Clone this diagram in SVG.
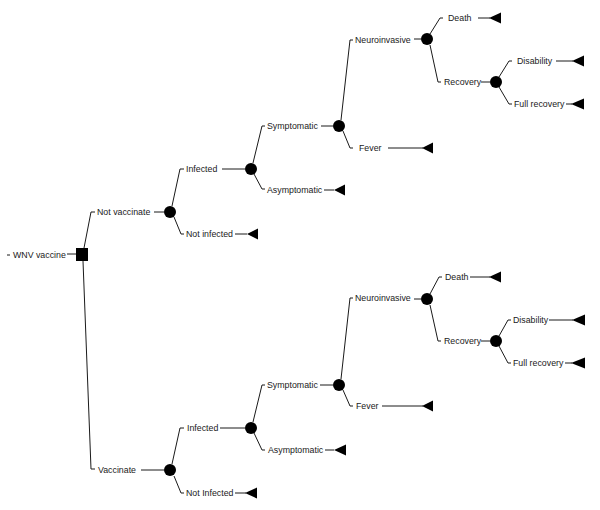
<svg xmlns="http://www.w3.org/2000/svg" width="600" height="510" viewBox="0 0 600 510">
<style>
.c{fill:none;stroke:#1a1a1a;stroke-width:1}
.t{font-family:"Liberation Sans",Arial,sans-serif;font-size:8.8px;fill:#1a1a1a}
.n{fill:#000}
</style>
<rect width="600" height="510" fill="#fff"/>
<g id="connectors">
<path class="c" d="M7,255H10M67,254H76"/>
<path class="c" d="M84,248L91,212H95M154,212H164"/>
<path class="c" d="M83,261L91,469H95M141,470H164"/>
<path class="c" d="M172,206L180,169H184M222,169H245"/>
<path class="c" d="M174,217L181,234H184M235,234H247"/>
<path class="c" d="M253,163L262,126H265M321,126H333"/>
<path class="c" d="M254,174L262,189H265M324,190H334"/>
<path class="c" d="M341,120L350,40H353M414,39H421"/>
<path class="c" d="M343,131L350,148H353M388,148H423"/>
<path class="c" d="M430,34L440,18H443M478,18H490"/>
<path class="c" d="M430,45L438,82H441M481,82H490"/>
<path class="c" d="M499,77L509,61H512M556,61H573"/>
<path class="c" d="M499,87L509,104H512M566,104H572"/>
<path class="c" d="M172,464L180,428H184M220,428H245"/>
<path class="c" d="M174,476L181,493H184M235,493H246"/>
<path class="c" d="M253,422L262,385H265M320,385H333"/>
<path class="c" d="M254,433L262,450H265M325,450H334"/>
<path class="c" d="M341,379L350,298H353M414,299H421"/>
<path class="c" d="M343,390L350,406H353M382,406H423"/>
<path class="c" d="M430,294L439,277H442M470,277H490"/>
<path class="c" d="M430,305L438,341H441M481,341H490"/>
<path class="c" d="M499,336L508,320H511M549,320H573"/>
<path class="c" d="M499,346L508,363H511M565,363H572"/>
</g>
<g id="root"><text class="t" x="13" y="258">WNV vaccine</text><rect class="n" x="76" y="248" width="12" height="13"/></g>
<g id="not-vaccinate"><text class="t" x="97" y="215">Not vaccinate</text><circle class="n" cx="170" cy="212" r="6"/></g>
<g id="vaccinate"><text class="t" x="98" y="473">Vaccinate</text><circle class="n" cx="170" cy="470" r="6"/></g>
<g id="nv-infected"><text class="t" x="186" y="172">Infected</text><circle class="n" cx="251" cy="169" r="6"/></g>
<g id="nv-not-infected"><text class="t" x="186" y="237">Not infected</text><polygon class="n" points="247,234 258,228.5 258,239.5"/></g>
<g id="nv-symptomatic"><text class="t" x="267" y="129">Symptomatic</text><circle class="n" cx="339" cy="126" r="6"/></g>
<g id="nv-asymptomatic"><text class="t" x="267" y="193">Asymptomatic</text><polygon class="n" points="334,190 345,184.5 345,195.5"/></g>
<g id="nv-neuroinvasive"><text class="t" x="355" y="43">Neuroinvasive</text><circle class="n" cx="427" cy="39" r="6"/></g>
<g id="nv-fever"><text class="t" x="359" y="151">Fever</text><polygon class="n" points="422,148 433,142.5 433,153.5"/></g>
<g id="nv-death"><text class="t" x="448" y="21">Death</text><polygon class="n" points="489,18 501,12.5 501,23.5"/></g>
<g id="nv-recovery"><text class="t" x="444" y="85">Recovery</text><circle class="n" cx="496" cy="82" r="6"/></g>
<g id="nv-disability"><text class="t" x="517" y="64">Disability</text><polygon class="n" points="572,61 584,55.5 584,66.5"/></g>
<g id="nv-full-recovery"><text class="t" x="514" y="107">Full recovery</text><polygon class="n" points="571,104 584,98.5 584,109.5"/></g>
<g id="v-infected"><text class="t" x="187" y="431">Infected</text><circle class="n" cx="251" cy="428" r="6"/></g>
<g id="v-not-infected"><text class="t" x="186" y="496">Not Infected</text><polygon class="n" points="245,493 257,487.5 257,498.5"/></g>
<g id="v-symptomatic"><text class="t" x="267" y="388">Symptomatic</text><circle class="n" cx="339" cy="385" r="6"/></g>
<g id="v-asymptomatic"><text class="t" x="268" y="453">Asymptomatic</text><polygon class="n" points="334,450 346,444.5 346,455.5"/></g>
<g id="v-neuroinvasive"><text class="t" x="355" y="301">Neuroinvasive</text><circle class="n" cx="427" cy="299" r="6"/></g>
<g id="v-fever"><text class="t" x="356" y="409">Fever</text><polygon class="n" points="422,406 433,400.5 433,411.5"/></g>
<g id="v-death"><text class="t" x="445" y="280">Death</text><polygon class="n" points="489,277 501,271.5 501,282.5"/></g>
<g id="v-recovery"><text class="t" x="444" y="344">Recovery</text><circle class="n" cx="496" cy="341" r="6"/></g>
<g id="v-disability"><text class="t" x="513" y="323">Disability</text><polygon class="n" points="572,320 585,314.5 585,325.5"/></g>
<g id="v-full-recovery"><text class="t" x="513" y="366">Full recovery</text><polygon class="n" points="571,363 585,357.5 585,368.5"/></g>
</svg>
